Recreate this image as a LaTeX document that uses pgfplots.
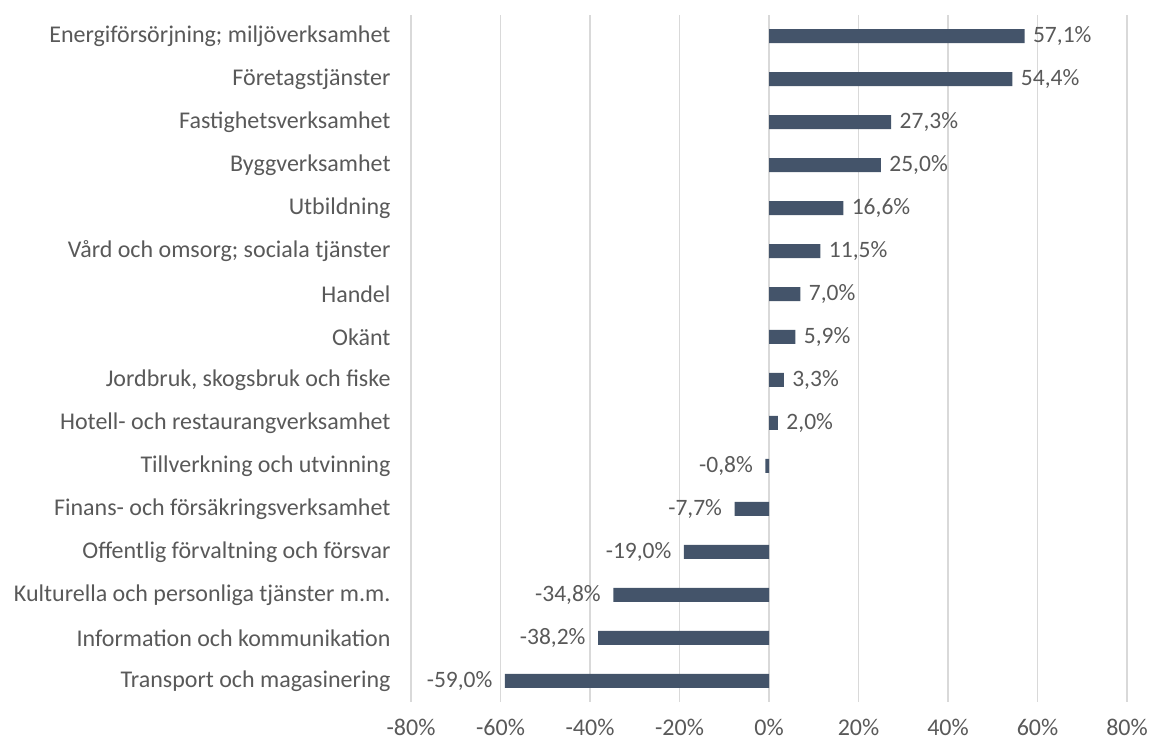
\documentclass[border=0pt]{standalone}
\usepackage{pgfplots}
\pgfplotsset{compat=1.18}
\usepackage{fontspec}
\setmainfont{Carlito}
\definecolor{barc}{HTML}{44546A}
\definecolor{txt}{HTML}{595959}
\definecolor{gridc}{HTML}{D9D9D9}
\definecolor{zeroc}{HTML}{A6A6A6}
\begin{document}
\begin{tikzpicture}
\path[use as bounding box] (0,0) rectangle (1151pt,743pt);
\begin{axis}[
  at={(411pt,41pt)}, anchor=south west,
  scale only axis, width=716pt, height=687pt,
  xbar, bar width=14pt, bar shift=0pt,
  xmin=-80, xmax=80, ymin=-0.49, ymax=15.49,
  xtick={-80,-60,...,80},
  ytick={0,...,15},
  yticklabels={Transport och magasinering,Information och kommunikation,Kulturella och personliga tjänster m.m.,Offentlig förvaltning och försvar,Finans- och försäkringsverksamhet,Tillverkning och utvinning,Hotell- och restaurangverksamhet,{Jordbruk, skogsbruk och fiske},Okänt,Handel,Vård och omsorg; sociala tjänster,Utbildning,Byggverksamhet,Fastighetsverksamhet,Företagstjänster,Energiförsörjning; miljöverksamhet},
  /pgf/number format/assume math mode=true,
  xticklabel={\pgfmathprintnumber{\tick}\%},
  axis line style={draw=none},
  major tick length=0pt,
  tick label style={font=\fontsize{24}{28}\selectfont, text=txt},
  yticklabel style={xshift=-17pt},
  xticklabel style={yshift=-14pt},
  xmajorgrids, major grid style={gridc, line width=1.3pt},
  extra x ticks={0}, extra x tick labels={},
  extra x tick style={grid style={zeroc, line width=2.5pt}},
  nodes near coords style={font=\fontsize{23.5}{28}\selectfont, text=txt},
  clip=false,
]
\addplot[fill=barc, draw=none,
  nodes near coords={\pgfmathprintnumber[fixed,fixed zerofill,precision=1,use comma]{\pgfplotspointmeta}\%},
  nodes near coords style={anchor=west, xshift=5pt}]
  coordinates {(57.1,15) (54.4,14) (27.3,13) (25.0,12) (16.6,11) (11.5,10) (7.0,9) (5.9,8) (3.3,7) (2.0,6)};
\addplot[fill=barc, draw=none,
  nodes near coords={\pgfmathprintnumber[fixed,fixed zerofill,precision=1,use comma]{\pgfplotspointmeta}\%},
  nodes near coords style={anchor=east, xshift=-9pt}]
  coordinates {(-0.8,5) (-7.7,4) (-19.0,3) (-34.8,2) (-38.2,1) (-59.0,0)};
\end{axis}
\end{tikzpicture}
\end{document}
